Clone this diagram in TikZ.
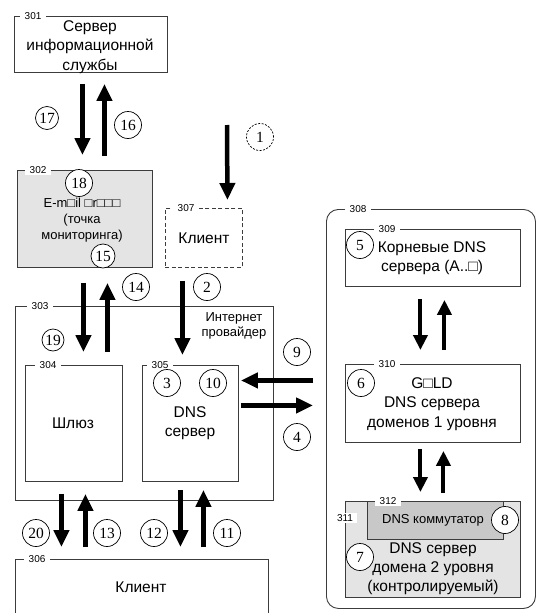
\documentclass[tikz,border=0pt]{standalone}
\usepackage{fontspec}
\setmainfont{Liberation Sans}
\newfontfamily\numfont{Liberation Serif}
\usepackage{tikz}
\usetikzlibrary{arrows.meta,positioning}
\definecolor{lightgray}{RGB}{228,228,228}
\definecolor{midgray}{RGB}{200,200,200}
\definecolor{frame}{RGB}{60,60,60}
\tikzset{%
  box/.style={draw=frame, line width=0.9pt, rectangle, anchor=north west, inner sep=0pt},% block
  tag/.style={fill=white, inner xsep=4.5pt, inner ysep=1pt, anchor=west, font=\fontsize{10}{11}\selectfont},% 3xx number
  txt/.style={align=center, inner sep=0pt, font=\fontsize{15.5}{19.5}\selectfont},
  smalltxt/.style={align=center, inner sep=0pt, font=\fontsize{13}{16}\selectfont},
  num/.style={circle, draw=black, line width=0.7pt, fill=white, minimum size=27pt, inner sep=0pt,
    font=\numfont\fontsize{15.5}{15.5}\selectfont},% step number
  flow/.style={line width=4.5pt, -{Triangle[length=17pt,width=15pt]}},% message
  flowsm/.style={line width=4pt, -{Triangle[length=15pt,width=14pt]}}
}

\begin{document}
\begin{tikzpicture}[x=1pt, y=-1pt]
\useasboundingbox (0,0) rectangle (536,613);

%% blocks
\node[box, minimum width=153pt, minimum height=56pt] (b301) at (14,16) {};
\node[box, fill=lightgray, minimum width=135pt, minimum height=97pt] (b302) at (17,170) {};
\node[box, dash pattern=on 4pt off 2.5pt, minimum width=77pt, minimum height=59pt] (b307) at (165,208) {};
\node[box, minimum width=258pt, minimum height=194pt] (b303) at (15,306) {};
\node[box, minimum width=97pt, minimum height=116pt] (b304) at (25,365) {};
\node[box, minimum width=96pt, minimum height=116pt] (b305) at (142,365) {};
\node[box, minimum width=253pt, minimum height=80pt] (b306) at (15,559) {};
\node[box, rounded corners=12pt, minimum width=209pt, minimum height=399pt] (b308) at (326,209) {};
\node[box, minimum width=175pt, minimum height=57pt] (b309) at (345,229) {};
\node[box, minimum width=175pt, minimum height=78pt] (b310) at (345,364) {};
\node[box, fill=lightgray, minimum width=175pt, minimum height=96pt] (b311) at (345,501) {};
\node[box, fill=midgray, minimum width=136pt, minimum height=38pt] (b312) at (367,501) {};

%% block numbers
\node[tag, xshift=6pt] at (b301.north west) {301};
\node[tag, xshift=8pt] at (b302.north west) {302};
\node[tag, xshift=12pt] at (b303.north west) {303};
\node[tag, xshift=10pt] at (b304.north west) {304};
\node[tag, xshift=5pt] at (b305.north west) {305};
\node[tag, xshift=9pt] at (b306.north west) {306};
\node[tag, xshift=8pt] at (b307.north west) {307};
\node[tag, xshift=19pt] at (b308.north west) {308};
\node[tag, xshift=29pt] at (b309.north west) {309};
\node[tag, xshift=29pt] at (b310.north west) {310};
\node[tag, anchor=center, yshift=-17pt] at (b311.north west) {311};
\node[tag, xshift=8pt] at (b312.north west) {312};

%% step numbers
\node[num, dash pattern=on 2pt off 1.5pt] (n1) at (260,137) {1};
\node[num] (n2) at (207,287) {2};
\node[num] (n3) at (167,383) {3};
\node[num] (n4) at (297,437) {4};
\node[num] (n5) at (360,245) {5};
\node[num] (n6) at (361,383) {6};
\node[num] (n7) at (360,557) {7};
\node[num] (n8) at (505,520) {8};
\node[num] (n9) at (297,352) {9};
\node[num] (n10) at (213,383) {10};
\node[num] (n11) at (227,533) {11};
\node[num] (n12) at (154,533) {12};
\node[num] (n13) at (107,533) {13};
\node[num] (n14) at (136,287) {14};
\node[num, minimum size=24pt] (n15) at (103,256) {15};
\node[num] (n16) at (128,125) {16};
\node[num, minimum size=23pt] (n17) at (47,118) {17};
\node[num] (n18) at (79,183) {18};
\node[num, minimum size=22pt] (n19) at (53,340) {19};
\node[num] (n20) at (36,533) {20};

%% texts
\node[txt] (t301) at (90,47) {Сервер\\информационной\\службы};
\node[smalltxt] (t302) at (82,220) {E-m□il □r□□□\\(точка\\мониторинга)};
\node[txt] (t307) at (204,238) {Клиент};
\node[smalltxt, font=\fontsize{13}{15.5}\selectfont] (t303) at (234,326) {Интернет\\провайдер};
\node[txt] (t304) at (73,423) {Шлюз};
\node[txt] (t305) at (190,423) {DNS\\сервер};
\node[txt] (t306) at (141,587) {Клиент};
\node[txt] (t309) at (432,258) {Корневые DNS\\сервера (A..□)};
\node[txt] (t310) at (432,404) {G□LD\\DNS сервера\\доменов 1 уровня};
\node[smalltxt] (t312) at (433,520) {DNS коммутатор};
\node[txt, font=\fontsize{15.5}{19}\selectfont] (t311) at (433,569) {DNS сервер\\домена 2 уровня\\(контролируемый)};

%%%%
\coordinate (c1) at (227,125);
\draw[flow] ([xshift=-8.5pt,yshift=-11pt]b301.south) -- ([xshift=-2.5pt,yshift=15pt]b302.north);
\draw[flow] ([xshift=19.5pt,yshift=14pt]b302.north) -- ([xshift=13.5pt,yshift=-11pt]b301.south);
\draw[flow] (c1) -- ([xshift=23.5pt,yshift=8pt]b307.north);
\draw[flow] ([xshift=-21.5pt,yshift=-13pt]b307.south) -- ([xshift=-8pt,yshift=10pt]b305.north);
\draw[flow] ([xshift=-1.5pt,yshift=-15pt]b302.south) -- ([xshift=9.5pt,yshift=13pt]b304.north);
\draw[flow] ([xshift=33.5pt,yshift=13pt]b304.north) -- ([xshift=22.5pt,yshift=-15pt]b302.south);
\draw[flow] ([xshift=-32pt,yshift=23pt]b310.west) -- ([xshift=2pt,yshift=43pt]b305.east);
\draw[flow] ([xshift=2pt,yshift=18pt]b305.east) -- ([xshift=-32pt,yshift=-2pt]b310.west);
\draw[flow] ([xshift=-12.5pt,yshift=-12pt]b304.south) -- ([xshift=-80.5pt,yshift=12pt]b306.north);
\draw[flow] ([xshift=-56.5pt,yshift=12pt]b306.north) -- ([xshift=11.5pt,yshift=-12pt]b304.south);
\draw[flow] ([xshift=-10pt,yshift=-8pt]b305.south) -- ([xshift=38.5pt,yshift=12pt]b306.north);
\draw[flow] ([xshift=61.5pt,yshift=12pt]b306.north) -- ([xshift=13pt,yshift=-8pt]b305.south);

\draw[flowsm] ([xshift=-12.5pt,yshift=-12pt]b309.south) -- ([xshift=-12.5pt,yshift=14pt]b310.north);
\draw[flowsm] ([xshift=11.5pt,yshift=14pt]b310.north) -- ([xshift=11.5pt,yshift=-13pt]b309.south);
\draw[flowsm] ([xshift=-12.5pt,yshift=-6pt]b310.south) -- ([xshift=-12.5pt,yshift=9pt]b311.north);
\draw[flowsm] ([xshift=10.5pt,yshift=8pt]b311.north) -- ([xshift=10.5pt,yshift=-8pt]b310.south);

\end{tikzpicture}
\end{document}
